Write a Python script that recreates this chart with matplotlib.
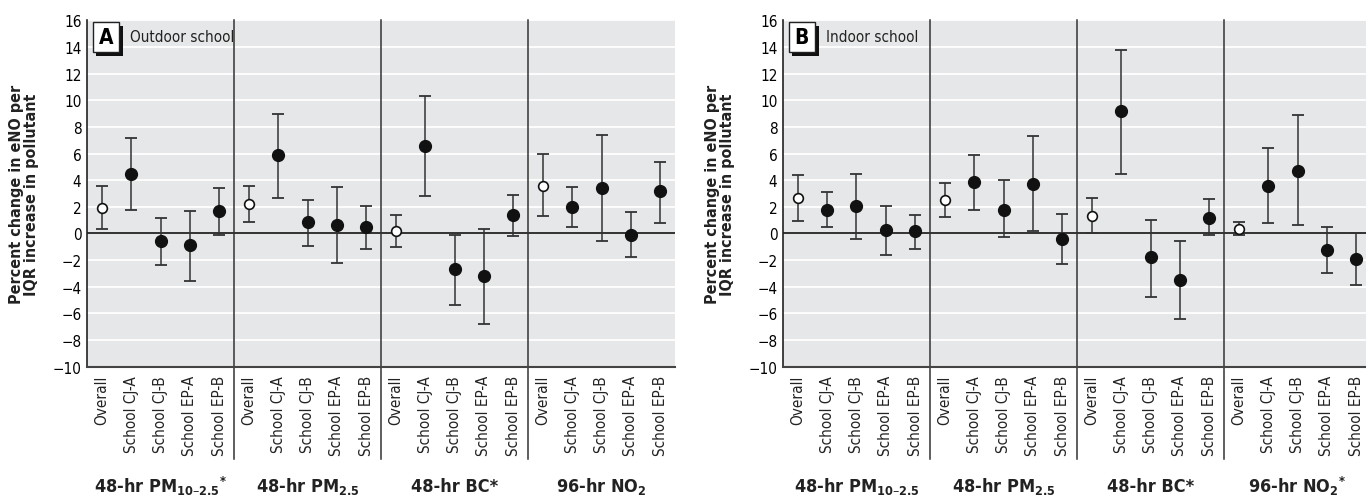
import matplotlib
matplotlib.use("Agg")
import matplotlib.pyplot as plt
from matplotlib.patches import Rectangle
import numpy as np

plt.rcParams["font.family"] = ["DejaVu Sans"]
plt.rcParams["font.stretch"] = "condensed"

sites = ["Overall", "School CJ-A", "School CJ-B", "School EP-A", "School EP-B"]

groups_a = ["48-hr PM$_{\\mathbf{10\u20132.5}}$$^{\\mathbf{*}}$", "48-hr PM$_{\\mathbf{2.5}}$",
            "48-hr BC*", "96-hr NO$_{\\mathbf{2}}$"]
groups_b = ["48-hr PM$_{\\mathbf{10\u20132.5}}$", "48-hr PM$_{\\mathbf{2.5}}$",
            "48-hr BC*", "96-hr NO$_{\\mathbf{2}}$$^{\\mathbf{*}}$"]

# outdoor school: estimate, lower, upper (PM10-2.5, PM2.5, BC, NO2)
est_a = [1.9, 4.5, -0.6, -0.9, 1.7,
         2.2, 5.9, 0.85, 0.6, 0.45,
         0.2, 6.6, -2.7, -3.2, 1.4,
         3.6, 2.0, 3.4, -0.1, 3.2]
lo_a = [0.3, 1.8, -2.4, -3.6, -0.1,
        0.85, 2.7, -0.95, -2.2, -1.2,
        -1.05, 2.8, -5.4, -6.8, -0.2,
        1.3, 0.5, -0.6, -1.8, 0.8]
hi_a = [3.6, 7.2, 1.2, 1.7, 3.4,
        3.6, 9.0, 2.5, 3.5, 2.1,
        1.4, 10.3, -0.1, 0.3, 2.9,
        6.0, 3.5, 7.4, 1.6, 5.4]

# indoor school
est_b = [2.7, 1.8, 2.1, 0.25, 0.15,
         2.5, 3.9, 1.8, 3.7, -0.45,
         1.3, 9.2, -1.8, -3.5, 1.2,
         0.35, 3.6, 4.7, -1.25, -1.9]
lo_b = [0.95, 0.45, -0.4, -1.6, -1.15,
        1.25, 1.8, -0.3, 0.15, -2.3,
        0.0, 4.5, -4.75, -6.4, -0.1,
        -0.1, 0.8, 0.6, -3.0, -3.9]
hi_b = [4.4, 3.1, 4.5, 2.1, 1.4,
        3.8, 5.9, 4.0, 7.3, 1.45,
        2.65, 13.8, 1.0, -0.6, 2.6,
        0.9, 6.4, 8.9, 0.5, 0.0]

panels = [("A", "Outdoor school", groups_a, est_a, lo_a, hi_a),
          ("B", "Indoor school", groups_b, est_b, lo_b, hi_b)]

fig = plt.figure(figsize=(13.66, 5.02), dpi=100)
lefts = [87 / 1366, 783 / 1366]
bg = "#e6e7e8"

for left, (letter, title, groups, est, lo, hi) in zip(lefts, panels):
    ax = fig.add_axes([left, 0.2675, 588 / 1366, 0.690])
    ax.set_facecolor(bg)
    est = np.array(est)
    lo = np.array(lo)
    hi = np.array(hi)
    x = np.arange(len(est)) + 0.5

    for yv in range(-10, 17, 2):
        ax.axhline(yv, color="white", lw=1.3, zorder=1)
    ax.axhline(0, color="#222222", lw=1.3, zorder=2)

    ax.errorbar(x, est, yerr=[est - lo, hi - est], fmt="none", ecolor="#333333",
                elinewidth=1.1, capsize=4, capthick=1.3, zorder=3)
    overall = np.arange(len(est)) % 5 == 0
    ax.plot(x[~overall], est[~overall], "o", ms=8.5, mfc="#111111", mec="#111111", zorder=4)
    ax.plot(x[overall], est[overall], "o", ms=7, mfc="white", mec="#111111", mew=1.2, zorder=4)

    for d in [5, 10, 15]:
        ax.plot([d, d], [-0.266, 1.0], color="#333333", lw=1.1,
                transform=ax.get_xaxis_transform(), clip_on=False, zorder=2)

    ax.set_xlim(0, 20)
    ax.set_ylim(-10, 16)
    ax.set_yticks(range(-10, 17, 2))
    ax.set_yticklabels([str(v).replace("-", "\u2212") for v in range(-10, 17, 2)], fontsize=11)
    ax.set_xticks(x)
    ax.set_xticklabels(sites * 4, rotation=90, fontsize=11, color="#222222")
    ax.tick_params(axis="both", length=0, pad=4)
    ax.tick_params(axis="x", pad=6)
    for s in ["top", "right"]:
        ax.spines[s].set_visible(False)
    ax.spines["left"].set_color("#222222")
    ax.spines["bottom"].set_color("#444444")
    ax.spines["left"].set_linewidth(1.2)
    ax.spines["bottom"].set_linewidth(1.5)

    for g, name in enumerate(groups):
        ax.text(g * 5 + 2.5, -0.344, name, transform=ax.get_xaxis_transform(),
                ha="center", va="center", fontsize=13, fontweight="bold", color="#222222")

    ax.set_ylabel("Percent change in eNO per\nIQR increase in pollutant",
                  fontsize=11.5, fontweight="bold", labelpad=10, linespacing=1.0, color="#222222")

    ax.add_patch(Rectangle((0.0157, 0.897), 0.045, 0.088, transform=ax.transAxes,
                           facecolor="#111111", edgecolor="none", zorder=5, clip_on=False))
    ax.add_patch(Rectangle((0.0097, 0.908), 0.045, 0.088, transform=ax.transAxes,
                           facecolor="white", edgecolor="#222222", lw=1, zorder=6, clip_on=False))
    ax.text(0.032, 0.952, letter, transform=ax.transAxes, ha="center", va="center",
            fontsize=15, fontweight="bold", zorder=7)
    ax.text(0.073, 0.953, title, transform=ax.transAxes, ha="left", va="center",
            fontsize=11, color="#222222", zorder=7)

fig.savefig("out.png", dpi=100)
